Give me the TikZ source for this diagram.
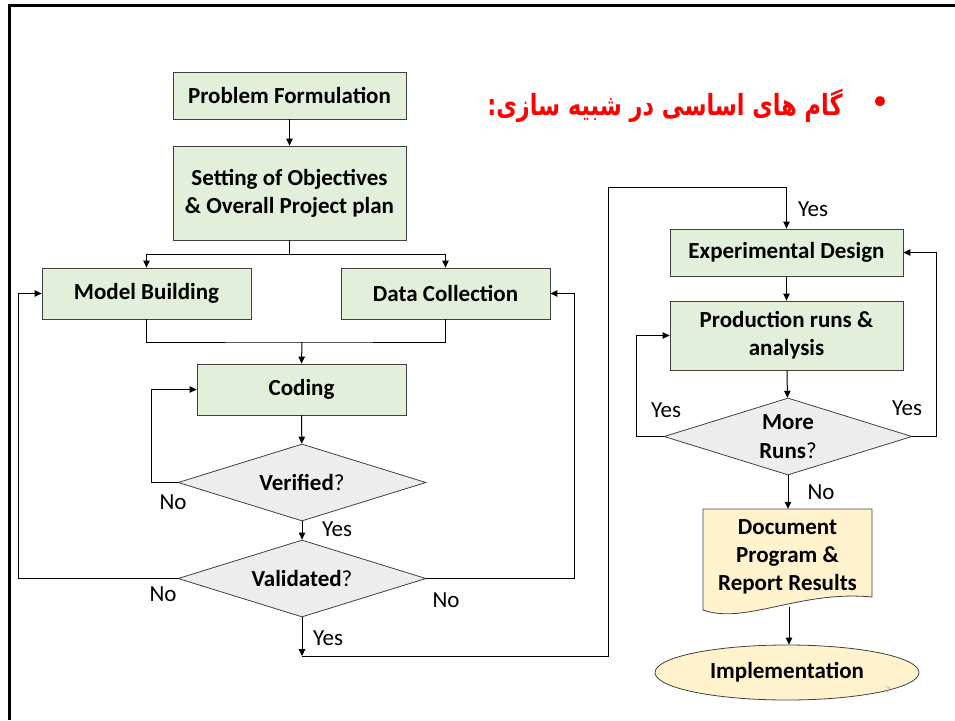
\documentclass[tikz,border=0pt]{standalone}
\usepackage{fontspec}
\usepackage{graphicx}
\setmainfont{Carlito}
\newfontfamily\arabicfont[Script=Arabic]{DejaVu Sans}
\TeXXeTstate=1
\usetikzlibrary{shapes.geometric,arrows.meta}
\definecolor{boxgreen}{HTML}{E2EFDA}
\definecolor{dgray}{HTML}{EDEDED}
\definecolor{docyellow}{HTML}{FFF2CC}
\definecolor{edgec}{HTML}{404040}
\begin{document}
\begin{tikzpicture}[x=1pt,y=-1pt,
  stepbox/.style={draw=edgec, line width=0.8pt, fill=boxgreen, inner sep=0pt, align=center, font=\bfseries\fontsize{23}{28}\selectfont},
  decision/.style={diamond, draw=edgec, line width=0.8pt, fill=dgray, inner sep=0pt, aspect=3.22, minimum width=248pt, minimum height=77pt, align=center, font=\fontsize{23}{29}\selectfont},
  conn/.style={line width=1pt, black},
  arr/.style={conn, -{Triangle[length=7pt,width=6.5pt]}},
  lab/.style={inner sep=0pt, font=\fontsize{23}{26}\selectfont}
]
\useasboundingbox (0,0) rectangle (955,720);
% frame
\draw[line width=3pt, line join=miter] (9,720) -- (9,5) -- (955,5);

% title
\node[text=red, inner sep=0pt, font=\arabicfont\bfseries\fontsize{22.4}{28}\selectfont] (title) at (665,106) {\scalebox{1}[1.3]{\beginR گام های اساسی در شبیه سازی:\endR}};
\node[text=red, inner sep=0pt, font=\fontsize{28}{30}\selectfont] (bul) at (880,103) {\textbullet};

% left column
\node[stepbox, minimum width=233pt, minimum height=47pt] (pf) at (289.5,95.5) {Problem Formulation};
\node[stepbox, minimum width=233pt, minimum height=94pt] (so) at (289.5,193) {Setting of Objectives\\\& Overall Project plan};
\node[stepbox, minimum width=209pt, minimum height=51pt] (mb) at (146.5,293.5) {Model Building};
\node[stepbox, minimum width=209pt, minimum height=51pt] (dc) at (445.5,293.5) {Data Collection};
\node[stepbox, minimum width=209pt, minimum height=51pt] (cod) at (301.5,389.5) {Coding};
\node[decision] (ver) at (302,482.5) {\textbf{Verified}?};
\node[decision] (val) at (302,578.5) {\textbf{Validated}?};

% right column
\node[stepbox, minimum width=233pt, minimum height=47pt] (ed) at (786.5,252.5) {Experimental Design};
\node[stepbox, minimum width=233pt, minimum height=69pt] (pr) at (786.5,335.5) {Production runs \&\\analysis};
\node[decision] (mr) at (788,436.5) {\textbf{More}\\\textbf{Runs}?};
\draw[draw=edgec, line width=0.8pt, fill=docyellow] (703,509) -- (872,509) -- (872,597) .. controls (800,590) and (745,625) .. (703,610) -- cycle;
\node[inner sep=0pt, minimum width=169pt, minimum height=96pt, align=center, font=\bfseries\fontsize{23}{28}\selectfont] (doc) at (787.5,557) {Document\\Program \&\\Report Results};
\coordinate (docb) at (789,607);
\node[ellipse, draw=edgec, line width=0.8pt, fill=docyellow, inner sep=0pt, minimum width=264pt, minimum height=55pt, font=\bfseries\fontsize{23}{26}\selectfont] (imp) at (787,672.5) {Implementation};

% connectors left
\draw[arr] (pf) -- (so);
\coordinate (split) at (289.5,254);
\draw[conn] (so.south) -- (split);
\draw[arr] (split) -| (mb.north);
\draw[arr] (split) -| (dc.north);
\coordinate (join) at (302,342);
\draw[conn] (mb.south) |- (join) -| (dc.south);
\draw[arr] (join) -- (cod.north);
\draw[arr] (cod) -- (ver);
\draw[arr] (ver.west) -- ++(-26,0) |- (cod.west);
\draw[arr] (ver) -- (val);
\draw[arr] (val.west) -- ++(-159,0) |- (mb.west);
\draw[arr] (val.east) -- ++(148,0) |- (dc.east);
\coordinate (vy) at (302,656);
\draw[arr] (val.south) -- (vy);
\coordinate (vr) at (608,656);
\coordinate (vt) at (608,187);
\draw[arr] (vy) -- (vr) -- (vt) -| (ed.north);

% connectors right
\draw[arr] (ed) -- (pr);
\draw[arr] (pr) -- (mr);
\draw[arr] (mr.west) -- ++(-27,0) |- (pr.west);
\draw[arr] (mr.east) -- ++(24,0) |- (ed.east);
\draw[arr] (mr.south) -- (mr.south |- doc.north);
\draw[arr] (docb) -- (docb |- imp.north);

% labels
\node[lab] (l1) at (173,502) {No};
\node[lab] (l2) at (337,529) {Yes};
\node[lab] (l3) at (163,594) {No};
\node[lab] (l4) at (446,600) {No};
\node[lab] (l5) at (328,638) {Yes};
\node[lab] (l6) at (813,209) {Yes};
\node[lab] (l7) at (666,410) {Yes};
\node[lab] (l8) at (907,408) {Yes};
\node[lab] (l9) at (821,492) {No};
\node[inner sep=0pt, text=gray!60, font=\fontsize{10}{12}\selectfont] (pg) at (888,690) {7};
\end{tikzpicture}
\end{document}
